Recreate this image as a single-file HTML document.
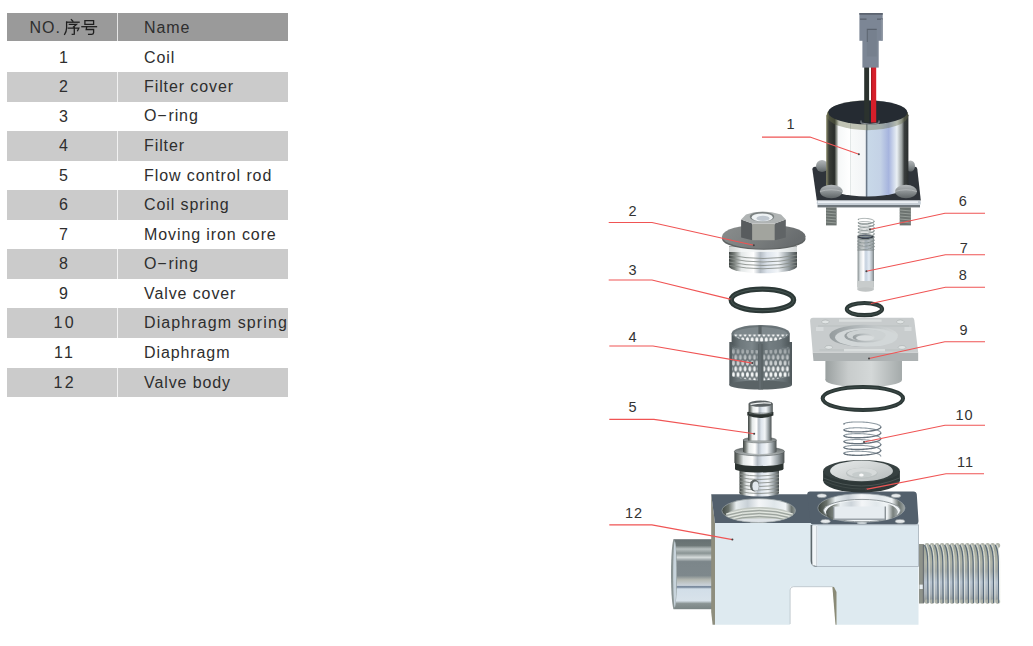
<!DOCTYPE html>
<html><head><meta charset="utf-8">
<style>
html,body{margin:0;padding:0;background:#fff;}
body{width:1033px;height:646px;position:relative;overflow:hidden;font-family:"Liberation Sans",sans-serif;color:#2e2e2e;}
.r{position:absolute;left:7px;width:281px;height:29.6px;}
.g{background:#cbcbcb;}
.h{background:#9a9a9a;}
.sep{position:absolute;left:110px;top:0;width:1px;height:100%;background:#fff;opacity:.75}
.n{position:absolute;left:0;width:113px;text-align:center;top:0;line-height:29.6px;font-size:16px;letter-spacing:2.4px;text-indent:2.4px;}
.t{position:absolute;left:137px;top:0;line-height:29.6px;font-size:16px;letter-spacing:.9px;white-space:nowrap;}
svg{position:absolute;left:0;top:0;}
.lbl{font-family:"Liberation Sans",sans-serif;font-size:14.5px;fill:#333;letter-spacing:1px}
</style></head><body>
<div class="r h" style="top:13px;height:28.4px"><div class="sep"></div><div class="n" style="text-align:left;left:22.5px;letter-spacing:1px;text-indent:0">NO.</div><div class="t">Name</div></div>
<div class="r" style="top:42.6px"><div class="n">1</div><div class="t">Coil</div></div>
<div class="r g" style="top:72.1px"><div class="sep"></div><div class="n">2</div><div class="t">Filter cover</div></div>
<div class="r" style="top:101.6px"><div class="n">3</div><div class="t" style="top:-1px">O<span style="margin-right:.8px">&#8722;</span>ring</div></div>
<div class="r g" style="top:131.2px"><div class="sep"></div><div class="n">4</div><div class="t">Filter</div></div>
<div class="r" style="top:160.7px"><div class="n">5</div><div class="t">Flow control rod</div></div>
<div class="r g" style="top:190.2px"><div class="sep"></div><div class="n">6</div><div class="t">Coil spring</div></div>
<div class="r" style="top:219.8px"><div class="n">7</div><div class="t">Moving iron core</div></div>
<div class="r g" style="top:249.3px"><div class="sep"></div><div class="n">8</div><div class="t">O<span style="margin-right:.8px">&#8722;</span>ring</div></div>
<div class="r" style="top:278.9px"><div class="n">9</div><div class="t">Valve cover</div></div>
<div class="r g" style="top:308.4px"><div class="sep"></div><div class="n">10</div><div class="t" style="letter-spacing:1.1px">Diaphragm spring</div></div>
<div class="r" style="top:337.9px"><div class="n">11</div><div class="t">Diaphragm</div></div>
<div class="r g" style="top:367.5px"><div class="sep"></div><div class="n">12</div><div class="t">Valve body</div></div>

<svg width="1033" height="646" viewBox="0 0 1033 646">

<defs>
<linearGradient id="chr" x1="0" x2="1" y1="0" y2="0">
 <stop offset="0" stop-color="#8a8a6a"/><stop offset="0.035" stop-color="#3a3e38"/><stop offset="0.1" stop-color="#2a2e2a"/><stop offset="0.125" stop-color="#8a8f88"/>
 <stop offset="0.15" stop-color="#f6f8f8"/><stop offset="0.285" stop-color="#ffffff"/><stop offset="0.29" stop-color="#c8d0d0"/><stop offset="0.3" stop-color="#f8fafa"/><stop offset="0.475" stop-color="#f2f4f6"/><stop offset="0.49" stop-color="#6a7888"/>
 <stop offset="0.51" stop-color="#c8d8e8"/><stop offset="0.66" stop-color="#c4d2e6"/><stop offset="0.76" stop-color="#a6b4de"/>
 <stop offset="0.86" stop-color="#eaf0f4"/><stop offset="0.92" stop-color="#9aa0a0"/><stop offset="0.95" stop-color="#3a3e3e"/><stop offset="1" stop-color="#2a2e2e"/>
</linearGradient>
<linearGradient id="chr2" x1="0" x2="1" y1="0" y2="0">
 <stop offset="0" stop-color="#3e4442"/><stop offset="0.08" stop-color="#7a807c"/><stop offset="0.18" stop-color="#e4e8e8"/>
 <stop offset="0.36" stop-color="#ffffff"/><stop offset="0.46" stop-color="#b4bcc4"/><stop offset="0.56" stop-color="#dde4ec"/>
 <stop offset="0.72" stop-color="#f2f5f8"/><stop offset="0.86" stop-color="#a0a8ac"/><stop offset="1" stop-color="#4a5050"/>
</linearGradient>
<linearGradient id="topV" x1="0" x2="0" y1="0" y2="1">
 <stop offset="0" stop-color="#5e6464"/><stop offset="0.6" stop-color="#8e9494"/><stop offset="1" stop-color="#c4cacc"/>
</linearGradient>
<linearGradient id="gry" x1="0" x2="1" y1="0" y2="0">
 <stop offset="0" stop-color="#9aa0a0"/><stop offset="0.3" stop-color="#c8cccc"/><stop offset="0.6" stop-color="#d4d8d8"/><stop offset="1" stop-color="#a4aaaa"/>
</linearGradient>
<linearGradient id="dome" x1="0" x2="0" y1="0" y2="1">
 <stop offset="0" stop-color="#b4b8ba"/><stop offset="0.5" stop-color="#8c9294"/><stop offset="1" stop-color="#5e6466"/>
</linearGradient>
<linearGradient id="pipeL" x1="0" x2="0" y1="0" y2="1">
 <stop offset="0" stop-color="#667072"/><stop offset="0.09" stop-color="#6e7878"/><stop offset="0.14" stop-color="#b8c0c0"/>
 <stop offset="0.2" stop-color="#8a9494"/><stop offset="0.26" stop-color="#d4dada"/><stop offset="0.32" stop-color="#7c868a"/>
 <stop offset="0.52" stop-color="#7e888c"/><stop offset="0.58" stop-color="#b4b8b2"/><stop offset="0.66" stop-color="#cad2da"/>
 <stop offset="0.68" stop-color="#66788e"/><stop offset="0.71" stop-color="#d2dee8"/><stop offset="0.88" stop-color="#d8e2ea"/>
 <stop offset="0.92" stop-color="#8a9494"/><stop offset="1" stop-color="#7a8484"/>
</linearGradient>
<linearGradient id="thr" x1="0" x2="0" y1="0" y2="1">
 <stop offset="0" stop-color="#9ea496"/><stop offset="0.3" stop-color="#b0b4a8"/><stop offset="0.45" stop-color="#a4aaa6"/><stop offset="0.65" stop-color="#b8c4d0"/><stop offset="0.85" stop-color="#aab2b8"/><stop offset="1" stop-color="#8c928e"/>
</linearGradient>
<pattern id="thrp" x="919" y="0" width="5.27" height="10" patternUnits="userSpaceOnUse">
 <rect x="0" y="0" width="5.27" height="10" fill="none"/>
 <rect x="0" y="0" width="1.2" height="10" fill="#5c6260" opacity=".55"/>
 <rect x="2.2" y="0" width="1.3" height="10" fill="#f0f2ee" opacity=".5"/>
</pattern>
<pattern id="mesh" x="729" y="345" width="4.6" height="12.6" patternUnits="userSpaceOnUse">
 <ellipse cx="2.3" cy="3.15" rx="1.15" ry="2.4" fill="#dfe4e6"/>
 <ellipse cx="0" cy="9.45" rx="1.15" ry="2.4" fill="#dfe4e6"/>
 <ellipse cx="4.6" cy="9.45" rx="1.15" ry="2.4" fill="#dfe4e6"/>
</pattern>
<clipPath id="fIn"><ellipse cx="760.8" cy="336" rx="29.6" ry="8.4"/></clipPath>
<linearGradient id="bodyF" x1="0" x2="1" y1="0" y2="0">
 <stop offset="0" stop-color="#dee6ec"/><stop offset="1" stop-color="#e2e8ee"/>
</linearGradient>
<linearGradient id="flg" x1="0" x2="1" y1="0" y2="0.3">
 <stop offset="0" stop-color="#8a8e8e"/><stop offset="0.5" stop-color="#7c8080"/><stop offset="1" stop-color="#686c6e"/>
</linearGradient>
<linearGradient id="holeG" x1="0" x2="1" y1="0" y2="0">
 <stop offset="0" stop-color="#3a423e"/><stop offset="0.1" stop-color="#6a726c"/><stop offset="0.2" stop-color="#e8eef0"/><stop offset="0.35" stop-color="#c8d0d6"/>
 <stop offset="0.5" stop-color="#f4f6f8"/><stop offset="0.7" stop-color="#dfe6ea"/><stop offset="0.85" stop-color="#f0f4f6"/><stop offset="0.93" stop-color="#6a726e"/><stop offset="1" stop-color="#a0a8a8"/>
</linearGradient>
<pattern id="mesh2" x="731" y="348.5" width="4.7" height="11.6" patternUnits="userSpaceOnUse">
 <ellipse cx="2.35" cy="2.9" rx="1.5" ry="2.6" fill="#f6f8f8"/>
 <ellipse cx="0" cy="8.7" rx="1.5" ry="2.6" fill="#f6f8f8"/>
 <ellipse cx="4.7" cy="8.7" rx="1.5" ry="2.6" fill="#f6f8f8"/>
</pattern>
<linearGradient id="fdim" x1="0" x2="0" y1="0" y2="1">
 <stop offset="0" stop-color="#6c767a" stop-opacity=".75"/><stop offset="0.5" stop-color="#6c767a" stop-opacity=".3"/><stop offset="0.7" stop-color="#6c767a" stop-opacity="0"/>
</linearGradient>
<linearGradient id="recG" x1="0" x2="1" y1="0" y2="0">
 <stop offset="0" stop-color="#959c9e"/><stop offset="0.5" stop-color="#b8bec0"/><stop offset="1" stop-color="#d4d8d8"/>
</linearGradient>
<linearGradient id="dG" x1="0" x2="1" y1="0" y2="1">
 <stop offset="0" stop-color="#e6eaea"/><stop offset="0.5" stop-color="#d0d4d4"/><stop offset="1" stop-color="#b4babb"/>
</linearGradient>
<linearGradient id="fmet" x1="0" x2="1" y1="0" y2="0">
 <stop offset="0" stop-color="#4e575a"/><stop offset="0.15" stop-color="#6e787c"/><stop offset="0.35" stop-color="#7c868a"/><stop offset="0.5" stop-color="#5e686c"/>
 <stop offset="0.65" stop-color="#747e82"/><stop offset="0.85" stop-color="#6a7478"/><stop offset="1" stop-color="#4e575a"/>
</linearGradient>
<linearGradient id="chr3" x1="0" x2="1" y1="0" y2="0">
 <stop offset="0" stop-color="#80888a"/><stop offset="0.15" stop-color="#d8dee0"/><stop offset="0.35" stop-color="#ffffff"/>
 <stop offset="0.5" stop-color="#c4d0de"/><stop offset="0.7" stop-color="#e4ecf4"/><stop offset="0.88" stop-color="#b0b8be"/><stop offset="1" stop-color="#7a8284"/>
</linearGradient>
</defs>

<!-- ===== right thread pipe ===== -->
<g id="pipeR">
<rect x="919.5" y="545" width="79" height="57.5" fill="url(#thr)"/>
<g fill="#aeb2a8"><circle cx="927.0" cy="545.6" r="2.5"/><circle cx="927.0" cy="601.6" r="2.4"/><circle cx="932.0" cy="545.6" r="2.5"/><circle cx="932.0" cy="601.6" r="2.4"/><circle cx="937.1" cy="545.6" r="2.5"/><circle cx="937.1" cy="601.6" r="2.4"/><circle cx="942.1" cy="545.6" r="2.5"/><circle cx="942.1" cy="601.6" r="2.4"/><circle cx="947.2" cy="545.6" r="2.5"/><circle cx="947.2" cy="601.6" r="2.4"/><circle cx="952.2" cy="545.6" r="2.5"/><circle cx="952.2" cy="601.6" r="2.4"/><circle cx="957.3" cy="545.6" r="2.5"/><circle cx="957.3" cy="601.6" r="2.4"/><circle cx="962.3" cy="545.6" r="2.5"/><circle cx="962.3" cy="601.6" r="2.4"/><circle cx="967.4" cy="545.6" r="2.5"/><circle cx="967.4" cy="601.6" r="2.4"/><circle cx="972.4" cy="545.6" r="2.5"/><circle cx="972.4" cy="601.6" r="2.4"/><circle cx="977.5" cy="545.6" r="2.5"/><circle cx="977.5" cy="601.6" r="2.4"/><circle cx="982.5" cy="545.6" r="2.5"/><circle cx="982.5" cy="601.6" r="2.4"/><circle cx="987.6" cy="545.6" r="2.5"/><circle cx="987.6" cy="601.6" r="2.4"/><circle cx="992.6" cy="545.6" r="2.5"/><circle cx="992.6" cy="601.6" r="2.4"/><circle cx="997.7" cy="545.6" r="2.5"/><circle cx="997.7" cy="601.6" r="2.4"/></g>
<g fill="none"><path d="M924.5 545 Q927.5 550 927.7 562 L928.0 603" stroke="#56687a" stroke-width="1.1"/><path d="M926.1 544.5 Q928.9 550 929.1 562 L929.4 603" stroke="#f0f2ec" stroke-width=".9" stroke-opacity=".8"/><path d="M929.5 545 Q932.5 550 932.8 562 L933.0 603" stroke="#56687a" stroke-width="1.1"/><path d="M931.1 544.5 Q933.9 550 934.1 562 L934.4 603" stroke="#f0f2ec" stroke-width=".9" stroke-opacity=".8"/><path d="M934.6 545 Q937.6 550 937.8 562 L938.1 603" stroke="#56687a" stroke-width="1.1"/><path d="M936.2 544.5 Q939.0 550 939.2 562 L939.5 603" stroke="#f0f2ec" stroke-width=".9" stroke-opacity=".8"/><path d="M939.6 545 Q942.6 550 942.8 562 L943.1 603" stroke="#56687a" stroke-width="1.1"/><path d="M941.2 544.5 Q944.0 550 944.2 562 L944.5 603" stroke="#f0f2ec" stroke-width=".9" stroke-opacity=".8"/><path d="M944.7 545 Q947.7 550 947.9 562 L948.2 603" stroke="#56687a" stroke-width="1.1"/><path d="M946.3 544.5 Q949.1 550 949.3 562 L949.6 603" stroke="#f0f2ec" stroke-width=".9" stroke-opacity=".8"/><path d="M949.7 545 Q952.7 550 952.9 562 L953.2 603" stroke="#56687a" stroke-width="1.1"/><path d="M951.3 544.5 Q954.1 550 954.3 562 L954.6 603" stroke="#f0f2ec" stroke-width=".9" stroke-opacity=".8"/><path d="M954.8 545 Q957.8 550 958.0 562 L958.3 603" stroke="#56687a" stroke-width="1.1"/><path d="M956.4 544.5 Q959.2 550 959.4 562 L959.7 603" stroke="#f0f2ec" stroke-width=".9" stroke-opacity=".8"/><path d="M959.8 545 Q962.8 550 963.0 562 L963.3 603" stroke="#56687a" stroke-width="1.1"/><path d="M961.4 544.5 Q964.2 550 964.4 562 L964.7 603" stroke="#f0f2ec" stroke-width=".9" stroke-opacity=".8"/><path d="M964.9 545 Q967.9 550 968.1 562 L968.4 603" stroke="#56687a" stroke-width="1.1"/><path d="M966.5 544.5 Q969.3 550 969.5 562 L969.8 603" stroke="#f0f2ec" stroke-width=".9" stroke-opacity=".8"/><path d="M969.9 545 Q972.9 550 973.1 562 L973.4 603" stroke="#56687a" stroke-width="1.1"/><path d="M971.5 544.5 Q974.3 550 974.5 562 L974.8 603" stroke="#f0f2ec" stroke-width=".9" stroke-opacity=".8"/><path d="M975.0 545 Q978.0 550 978.2 562 L978.5 603" stroke="#56687a" stroke-width="1.1"/><path d="M976.6 544.5 Q979.4 550 979.6 562 L979.9 603" stroke="#f0f2ec" stroke-width=".9" stroke-opacity=".8"/><path d="M980.0 545 Q983.0 550 983.2 562 L983.5 603" stroke="#56687a" stroke-width="1.1"/><path d="M981.6 544.5 Q984.4 550 984.6 562 L984.9 603" stroke="#f0f2ec" stroke-width=".9" stroke-opacity=".8"/><path d="M985.1 545 Q988.1 550 988.3 562 L988.6 603" stroke="#56687a" stroke-width="1.1"/><path d="M986.7 544.5 Q989.5 550 989.7 562 L990.0 603" stroke="#f0f2ec" stroke-width=".9" stroke-opacity=".8"/><path d="M990.1 545 Q993.1 550 993.3 562 L993.6 603" stroke="#56687a" stroke-width="1.1"/><path d="M991.7 544.5 Q994.5 550 994.7 562 L995.0 603" stroke="#f0f2ec" stroke-width=".9" stroke-opacity=".8"/><path d="M995.2 545 Q998.2 550 998.4 562 L998.7 603" stroke="#56687a" stroke-width="1.1"/><path d="M996.8 544.5 Q999.6 550 999.8 562 L1000.1 603" stroke="#f0f2ec" stroke-width=".9" stroke-opacity=".8"/></g>
<rect x="919" y="544" width="5" height="59.5" fill="#8e928a"/>
<rect x="919.5" y="584.6" width="4.2" height="4.4" fill="#e8eef2"/>
<rect x="922.8" y="545" width="1.2" height="58" fill="#6a7074"/>
</g>
<!-- ===== left pipe ===== -->
<g id="pipeL">
<rect x="673.5" y="539.2" width="40.5" height="70" fill="url(#pipeL)"/>
<ellipse cx="674" cy="574.2" rx="3" ry="35" fill="#8a9494"/>
<ellipse cx="674.8" cy="574.2" rx="1.6" ry="33" fill="#c8d4dc"/>
</g>
<!-- ===== valve body ===== -->
<g id="body">
<polygon points="711.2,494.3 715,523 715,624.8 712.6,624.8 711.2,612" fill="#8e8e7e"/>
<polygon points="715,523 918.5,523 918.5,624.8 836,624.8 832.4,586.7 790.1,586.7 790.1,624.8 715,624.8" fill="#deeaf0"/>
<polygon points="832.4,586.7 834,587 836.5,592 836.5,624.8 835.5,624.8" fill="#8a8a76"/>
<path d="M790.1 624 V590 Q790.1 586.7 793.5 586.7 H832.4" fill="none" stroke="#b8c0c6" stroke-width=".8"/>
<!-- top faces -->
<polygon points="711.2,494.3 809,494.3 812,523 715,523" fill="#53606c"/>
<path d="M810 491.4 H913.5 Q916.5 491.4 916.8 494.5 L918.5 521 Q918.5 524.6 915 524.6 H813.5 Q810.5 524.6 810.3 521.5 L807.2 494.5 Q807.2 491.4 810 491.4 Z" fill="#53606c"/>
<!-- right block front -->
<path d="M811.8 524.8 H918.5 V566.5 H816 Q811.8 566.5 811.8 562 Z" fill="#dce8ef" stroke="#9ea8b0" stroke-width=".7"/>
<path d="M810.6 525 V561 Q810.8 566.3 816 566.6 L817.5 566.6 Q812.6 565.5 812.4 560 V525 Z" fill="#5e686c"/>
<rect x="812.4" y="525.5" width="5.2" height="40" fill="#f2f6f8"/>
<line x1="816.7" y1="526" x2="816.7" y2="566" stroke="#a8b2ba" stroke-width=".6"/>
<!-- left hole -->
<clipPath id="lh"><ellipse cx="758.7" cy="510.6" rx="36.8" ry="11.9"/></clipPath>
<g clip-path="url(#lh)">
<rect x="721" y="498" width="76" height="26" fill="url(#holeG)"/>
<ellipse cx="759.5" cy="516.5" rx="34" ry="9.5" fill="#c2c8c2"/>
<g fill="none" stroke="#e6eae4" stroke-width="1">
<path d="M726 514 Q759 504 793 514"/><path d="M726 517 Q759 507 793 517"/><path d="M726 520 Q759 510 793 520"/>
</g>
<g fill="none" stroke="#8e9690" stroke-width=".8">
<path d="M726 515.5 Q759 505.5 793 515.5"/><path d="M726 518.5 Q759 508.5 793 518.5"/><path d="M726 521.5 Q759 511.5 793 521.5"/>
</g>
<ellipse cx="760" cy="522" rx="30" ry="3.5" fill="#dde2e6"/>
</g>
<ellipse cx="758.7" cy="510.6" rx="36.8" ry="11.9" fill="none" stroke="#9aa2a4" stroke-width=".7"/>
<!-- right hole -->
<ellipse cx="861.4" cy="508" rx="43.6" ry="14.3" fill="url(#holeG)"/>
<ellipse cx="861.4" cy="508" rx="43.6" ry="14.3" fill="none" stroke="#9aa2a6" stroke-width=".7"/>
<ellipse cx="862" cy="510.6" rx="38.5" ry="11.2" fill="#f0f4f6" stroke="#7e868a" stroke-width=".8"/>
<path d="M826 512 Q828 502 862 500.5 Q896 502 898 512 Q897 518 886 520 V508 H833 V520 Q826 518 826 512 Z" fill="url(#holeG)" opacity=".9"/>
<rect x="833" y="506.5" width="53" height="13.5" fill="#e6ecf0"/>
<rect x="833" y="518.5" width="53" height="1.5" fill="#9aa2a8"/>
<rect x="833" y="506.5" width="1.4" height="13.5" fill="#8a9296"/>
<rect x="884.6" y="506.5" width="1.4" height="13.5" fill="#8a9296"/>
<!-- small holes -->
<g fill="#e6eaec" stroke="#7e868c" stroke-width=".6">
<ellipse cx="821.8" cy="495.7" rx="4.8" ry="2"/>
<ellipse cx="896" cy="495.7" rx="4.8" ry="2"/>
<ellipse cx="825.5" cy="521.3" rx="4.8" ry="2"/>
<ellipse cx="900" cy="521.3" rx="4.8" ry="2"/>
</g>
<ellipse cx="862" cy="523" rx="5" ry="1" fill="#c8d0d4"/>
</g>
</g>

<!-- ===== rod 5 ===== -->
<g id="rod5">
<!-- thread -->
<rect x="739.5" y="469" width="39.5" height="24" fill="url(#chr2)"/>
<ellipse cx="759.2" cy="493" rx="19.8" ry="3.6" fill="url(#chr2)"/>
<g stroke="#8a908c" stroke-width=".9" fill="none">
<path d="M739.5 474 Q759 478 779 474"/><path d="M739.5 477.5 Q759 481.5 779 477.5"/><path d="M739.5 481 Q759 485 779 481"/>
<path d="M739.5 484.5 Q759 488.5 779 484.5"/><path d="M739.5 488 Q759 492 779 488"/><path d="M739.5 491.5 Q759 495.5 779 491.5"/>
</g>
<ellipse cx="754.5" cy="485.5" rx="4.6" ry="6" fill="#5e6464"/>
<ellipse cx="755.6" cy="486.2" rx="3.2" ry="4.6" fill="#e2e8ee"/>
<!-- black o-ring -->
<rect x="735" y="462.5" width="48.5" height="6.5" fill="#2b3230"/>
<ellipse cx="759.2" cy="469" rx="24.2" ry="3.4" fill="#2b3230"/>
<!-- flange -->
<rect x="734.4" y="451.5" width="50" height="11" fill="url(#chr2)"/>
<ellipse cx="759.4" cy="462.5" rx="25" ry="3.4" fill="url(#chr2)"/>
<ellipse cx="759.4" cy="451.4" rx="25" ry="4.4" fill="url(#topV)" stroke="#4e5454" stroke-width=".6"/>
<!-- step -->
<rect x="743" y="440" width="33.5" height="11.5" fill="url(#chr2)"/>
<ellipse cx="759.7" cy="451.5" rx="16.75" ry="2.6" fill="url(#chr2)"/>
<ellipse cx="759.7" cy="440" rx="16.75" ry="2.9" fill="url(#topV)" stroke="#4e5454" stroke-width=".5"/>
<!-- stem -->
<rect x="748" y="416" width="23.5" height="24.5" fill="url(#chr2)"/>
<!-- o-ring top -->
<path d="M747.3 412 Q760 409.5 773.4 412 V415.6 Q760 420.5 747.3 415.6 Z" fill="#2b3230"/>
<path d="M749 413.5 Q760 415.5 771.6 413.5" stroke="#6a7270" stroke-width=".6" fill="none"/>
<!-- cap -->
<rect x="748.6" y="403.7" width="24.2" height="8.6" fill="url(#chr2)"/>
<path d="M748.6 412.3 Q760.7 415 772.8 412.3" fill="url(#chr2)"/>
<ellipse cx="760.7" cy="403.7" rx="12.1" ry="3.1" fill="#5a6062"/>
<path d="M750.5 404.4 Q761 402.2 771 403.2" stroke="#f4f6f6" stroke-width="1.1" fill="none"/>
</g>
<!-- ===== filter 4 ===== -->
<g id="filter4">
<!-- body -->
<rect x="729.3" y="342" width="62.7" height="43" fill="url(#fmet)"/>
<ellipse cx="760.6" cy="385" rx="31.35" ry="4.6" fill="#5a6366"/>
<!-- mesh panels -->
<clipPath id="fp"><path d="M732.2 347.5 Q745 350 757.8 350.6 V380.5 Q745 380 732.2 376.5 Z M763.5 350.6 Q776 350 789.3 347.5 V376.5 Q776 380 763.5 380.5 Z"/></clipPath>
<g clip-path="url(#fp)">
<rect x="730" y="345" width="62" height="37" fill="#6c767a"/>
<rect x="730" y="345" width="62" height="37" fill="url(#mesh2)"/>
<rect x="730" y="345" width="62" height="37" fill="url(#fdim)"/>
</g>
<!-- top ring -->
<rect x="731.6" y="333.5" width="58.1" height="10.5" fill="url(#fmet)"/>
<ellipse cx="760.65" cy="344" rx="29.05" ry="4.5" fill="url(#fmet)"/>
<ellipse cx="760.65" cy="333.5" rx="29.05" ry="8.6" fill="#6a7478"/>
<ellipse cx="760.65" cy="334.3" rx="26.8" ry="7.2" fill="#7e888c"/>
<clipPath id="fIn2"><ellipse cx="760.65" cy="334.3" rx="26.8" ry="7.2"/></clipPath>
<g clip-path="url(#fIn2)"><rect x="733" y="334.5" width="56" height="8" fill="url(#mesh2)"/></g>
<!-- struts -->
<rect x="758.4" y="325.5" width="3.2" height="8.5" fill="#5a6366"/>
<rect x="758.3" y="344" width="4.8" height="45.5" fill="#5b6467"/>
<line x1="760" y1="344" x2="760" y2="389" stroke="#707a7e" stroke-width=".7"/>
</g>
<!-- ===== O-ring 3 ===== -->
<ellipse cx="762.4" cy="299.9" rx="31.2" ry="10.8" fill="none" stroke="#2c3836" stroke-width="5.3"/>
<ellipse cx="762.4" cy="299.9" rx="31.2" ry="10.8" fill="none" stroke="#475654" stroke-width="1.1" opacity=".8"/>
<!-- ===== filter cover 2 ===== -->
<g id="cover2">
<rect x="729" y="246.5" width="68" height="20" fill="url(#chr2)"/>
<ellipse cx="763" cy="266.5" rx="34" ry="6.8" fill="url(#chr2)"/>
<g stroke="#8a908c" stroke-width=".9" fill="none">
<path d="M729 255 Q763 262 797 255"/><path d="M729 258.5 Q763 265.5 797 258.5"/><path d="M729 262 Q763 269 797 262"/><path d="M729.5 265.5 Q763 272 796.5 265.5"/>
</g>
<rect x="729" y="247" width="68" height="5" fill="#f4f6f6" opacity=".8"/>
<ellipse cx="763.8" cy="239" rx="41.8" ry="10.8" fill="#5e6262"/>
<ellipse cx="763.8" cy="236.5" rx="41.8" ry="12.3" fill="url(#flg)"/>
<!-- hex -->
<polygon points="741.1,219.5 752.2,223.6 752.2,240.2 741.1,237.4" fill="#585c5e"/>
<polygon points="752.2,223.6 774.8,223.6 774.8,240.2 752.2,240.2" fill="#a2a49e"/>
<polygon points="774.8,223.6 785.8,219.5 785.8,237.4 774.8,240.2" fill="#606466"/>
<path d="M741.1 219.5 L746 214.5 Q762 208.6 781 214.5 L785.8 219.5 L774.8 223.6 H752.2 Z" fill="#b0b4b4"/>
<ellipse cx="762" cy="216.8" rx="12.2" ry="4.9" fill="#7a8080"/>
<ellipse cx="762.2" cy="217.4" rx="10.6" ry="4" fill="#eef2f4"/>
<ellipse cx="763" cy="218.4" rx="6.5" ry="2.6" fill="#c0c8d0"/>
</g>

<!-- ===== connector + wires ===== -->
<g id="conn">
<rect x="864.2" y="66" width="4.9" height="62" fill="#2b322e"/>
<rect x="871" y="66" width="5.2" height="62" fill="#d61f2a"/>
<rect x="871" y="66" width="1.2" height="62" fill="#a81820"/>
<rect x="859.4" y="13" width="23.3" height="27.8" fill="#7c8695"/>
<rect x="859.4" y="13" width="23.3" height="1.8" fill="#5c6470"/>
<rect x="860" y="18.5" width="6.5" height="1.3" fill="#5a626e"/>
<rect x="877" y="18.5" width="6" height="1.3" fill="#5a626e"/>
<rect x="881.2" y="19" width="1.5" height="21.5" fill="#8a93a0"/>
<rect x="862.4" y="40" width="16.3" height="27.6" fill="#7c8695"/>
<rect x="866.8" y="28.8" width="9.9" height="27.7" fill="#76808e"/>
<rect x="866.8" y="28.8" width="9.9" height="1.2" fill="#5a626e"/>
<rect x="866.8" y="30" width="1" height="12" fill="#5e6672"/>
</g>
<!-- ===== coil 1 ===== -->
<g id="coil">
<path d="M815 166.7 H915 Q917 166.7 917.3 169 L920.8 200.5 H816.8 L812.4 169.5 Q812.4 166.7 815 166.7 Z" fill="#2f343a"/>
<rect x="816.8" y="200.5" width="104" height="4.6" rx="1.5" fill="#c6ced6"/>
<rect x="818" y="201.3" width="100" height="1.6" fill="#f0f4f8"/>
<rect x="817.5" y="205" width="102.5" height="2.4" fill="#6e767c"/>
<!-- back screws -->
<ellipse cx="822" cy="166" rx="6" ry="6" fill="url(#dome)"/>
<ellipse cx="910.5" cy="166" rx="4.5" ry="5.5" fill="url(#dome)"/>
<!-- threads under plate -->
<g>
<rect x="826" y="207.4" width="10.6" height="18" fill="#6c7370"/>
<rect x="899.7" y="207.4" width="11.2" height="18" fill="#6c7370"/>
<g stroke="#9aa09c" stroke-width=".9">
<line x1="826" y1="210" x2="836.6" y2="211"/><line x1="826" y1="213" x2="836.6" y2="214"/><line x1="826" y1="216" x2="836.6" y2="217"/><line x1="826" y1="219" x2="836.6" y2="220"/><line x1="826" y1="222" x2="836.6" y2="223"/>
<line x1="899.7" y1="210" x2="910.9" y2="211"/><line x1="899.7" y1="213" x2="910.9" y2="214"/><line x1="899.7" y1="216" x2="910.9" y2="217"/><line x1="899.7" y1="219" x2="910.9" y2="220"/><line x1="899.7" y1="222" x2="910.9" y2="223"/>
</g>
</g>
<!-- cylinder -->
<rect x="826.2" y="115.5" width="82.2" height="69" fill="url(#chr)"/>
<ellipse cx="867.3" cy="184.3" rx="41.1" ry="12.2" fill="url(#chr)"/>
<ellipse cx="867.5" cy="115.2" rx="40.9" ry="15" fill="url(#chr)"/>
<ellipse cx="867.5" cy="115.2" rx="40.9" ry="15" fill="#6a6e48" opacity=".4"/>
<ellipse cx="867.8" cy="112.4" rx="39.5" ry="11.9" fill="#252b32"/>
<rect x="864.2" y="100" width="4.9" height="22.5" fill="#2b322e"/>
<rect x="871" y="100" width="5.2" height="22.5" fill="#d61f2a"/>
<path d="M861 120.5 V123 Q870 125.5 879 123 V120.5" fill="none" stroke="#8a9094" stroke-width="1"/>
<!-- front screws -->
<ellipse cx="831.3" cy="191.5" rx="11.4" ry="6.8" fill="url(#dome)"/>
<ellipse cx="906" cy="191.5" rx="11" ry="6.8" fill="url(#dome)"/>
<path d="M820 191.5 Q831 188 842.7 191.5" stroke="#c4c8ca" stroke-width=".6" fill="none"/>
<path d="M895 191.5 Q906 188 917 191.5" stroke="#c4c8ca" stroke-width=".6" fill="none"/>
</g>
<!-- ===== spring 6 ===== -->
<g id="spring6" fill="none" stroke-linecap="round">
<path d="M858.39 219.39 L858.65 219.19 L859.08 219.00 L859.67 218.83 L860.40 218.68 L861.26 218.57 L862.23 218.48 L863.29 218.43 L864.42 218.42 L865.58 218.45 L866.76 218.53 L867.92 218.64 L869.05 218.80 L870.11 219.00 L871.09 219.23 L871.96 219.50 L872.70 219.79 L873.29 220.11 L873.73 220.45 L874.00 220.80 L874.10 221.15 L874.02 221.51 M858.37 222.56 L858.61 222.36 L859.03 222.17 L859.60 222.00 L860.32 221.85 L861.16 221.72 L862.13 221.63 L863.18 221.58 L864.30 221.57 L865.46 221.60 L866.63 221.66 L867.80 221.78 L868.93 221.93 L870.01 222.12 L870.99 222.35 L871.87 222.61 L872.63 222.91 L873.24 223.22 L873.69 223.56 L873.98 223.91 L874.10 224.26 L874.04 224.62 M858.35 225.73 L858.58 225.53 L858.97 225.33 L859.53 225.16 L860.23 225.01 L861.07 224.88 L862.02 224.79 L863.06 224.73 L864.18 224.72 L865.33 224.74 L866.51 224.80 L867.68 224.91 L868.82 225.06 L869.90 225.25 L870.89 225.47 L871.79 225.73 L872.55 226.02 L873.18 226.34 L873.65 226.67 L873.96 227.02 L874.09 227.37 L874.05 227.73 M858.34 228.90 L858.55 228.70 L858.93 228.50 L859.46 228.32 L860.15 228.17 L860.98 228.04 L861.91 227.95 L862.95 227.88 L864.06 227.86 L865.21 227.88 L866.39 227.94 L867.56 228.04 L868.70 228.19 L869.79 228.37 L870.79 228.59 L871.70 228.85 L872.48 229.14 L873.12 229.45 L873.61 229.78 L873.94 230.13 L874.09 230.48 L874.06 230.84 M858.33 232.07 L858.52 231.86 L858.88 231.67 L859.40 231.49 L860.07 231.33 L860.88 231.20 L861.81 231.10 L862.84 231.04 L863.94 231.01 L865.09 231.02 L866.26 231.08 L867.44 231.18 L868.58 231.32 L869.68 231.50 L870.69 231.72 L871.61 231.97 L872.40 232.25 L873.06 232.56 L873.57 232.89 L873.91 233.24 L874.08 233.59 L874.08 233.95 M858.32 235.24 L858.49 235.03 L858.83 234.84 L859.34 234.66 L860.00 234.49 L860.79 234.36 L861.71 234.26 L862.72 234.19 L863.82 234.16 L864.96 234.17 L866.14 234.22 L867.31 234.31 L868.46 234.45 L869.56 234.62 L870.59 234.84 L871.52 235.09 L872.33 235.37 L873.00 235.68 L873.52 236.00 L873.88 236.35 L874.07 236.70 L874.08 237.06 M858.31 238.41 L858.46 238.20 L858.79 238.00 L859.28 237.82 L859.92 237.66 L860.70 237.52 L861.61 237.41 L862.61 237.34 L863.70 237.31 L864.84 237.31 L866.01 237.36 L867.19 237.45 L868.34 237.58 L869.45 237.75 L870.49 237.96 L871.42 238.21 L872.25 238.49 L872.94 238.79 L873.47 239.12 L873.85 239.46 L874.06 239.81 L874.09 240.17 M858.31 241.58 L858.44 241.37 L858.75 241.17 L859.22 240.99 L859.85 240.82 L860.61 240.68 L861.51 240.57 L862.50 240.50 L863.58 240.46 L864.72 240.46 L865.89 240.50 L867.07 240.58 L868.22 240.71 L869.34 240.88 L870.38 241.09 L871.33 241.33 L872.17 241.60 L872.87 241.90 L873.43 242.23 L873.82 242.57 L874.05 242.92 L874.10 243.28 M858.30 244.75 L858.42 244.54 L858.71 244.34 L859.16 244.15 L859.77 243.99 L860.53 243.84 L861.41 243.73 L862.39 243.65 L863.47 243.61 L864.60 243.60 L865.77 243.64 L866.94 243.72 L868.10 243.84 L869.22 244.01 L870.27 244.21 L871.24 244.45 L872.08 244.72 L872.80 245.02 L873.37 245.34 L873.79 245.68 L874.03 246.03 L874.10 246.39 M858.30 247.92 L858.40 247.71 L858.67 247.51 L859.11 247.32 L859.70 247.15 L860.44 247.00 L861.31 246.89 L862.29 246.80 L863.35 246.76 L864.48 246.75 L865.64 246.78 L866.82 246.86 L867.98 246.98 L869.11 247.14 L870.17 247.33 L871.14 247.57 L872.00 247.84 L872.73 248.13 L873.32 248.45 L873.75 248.79 L874.01 249.14 L874.10 249.50" stroke="#a4acac" stroke-width="1"/>
</g>
<!-- ===== core 7 ===== -->
<g id="core7">
<rect x="857.6" y="237" width="16.4" height="50" fill="url(#chr3)"/>
<rect x="857.3" y="281" width="16.6" height="8.5" fill="#c8cccc"/>
<ellipse cx="865.6" cy="289.5" rx="8.3" ry="2.2" fill="#c0c4c4"/>
<g stroke="#7a8282" stroke-width=".9">
<line x1="857.3" y1="241" x2="873.9" y2="241"/><line x1="857.3" y1="244" x2="873.9" y2="244"/><line x1="857.3" y1="247" x2="873.9" y2="247"/><line x1="857.3" y1="250" x2="873.9" y2="250"/>
</g>
<ellipse cx="865.6" cy="236.8" rx="8.3" ry="2.4" fill="#3a4048"/>
<ellipse cx="865.6" cy="236.5" rx="6" ry="1.4" fill="#5c6878"/>
</g>
<g id="spring6f" fill="none" stroke-linecap="round">
<path d="M858.30 219.60 L858.39 219.39 M874.02 221.51 L873.77 221.86 L873.35 222.20 L872.77 222.52 L872.04 222.82 L871.19 223.09 L870.22 223.33 L869.17 223.53 L868.04 223.69 L866.88 223.81 L865.70 223.89 L864.54 223.92 L863.41 223.92 L862.34 223.87 L861.36 223.79 L860.48 223.68 L859.74 223.53 L859.13 223.36 L858.69 223.18 L858.41 222.98 L858.30 222.77 L858.37 222.56 M874.04 224.62 L873.80 224.97 L873.40 225.32 L872.84 225.64 L872.13 225.94 L871.28 226.21 L870.33 226.45 L869.28 226.66 L868.16 226.82 L867.01 226.95 L865.83 227.03 L864.66 227.07 L863.52 227.07 L862.45 227.03 L861.46 226.95 L860.57 226.84 L859.81 226.70 L859.19 226.53 L858.73 226.34 L858.43 226.15 L858.30 225.94 L858.35 225.73 M874.05 227.73 L873.84 228.09 L873.45 228.43 L872.90 228.75 L872.21 229.06 L871.38 229.33 L870.43 229.58 L869.39 229.78 L868.28 229.95 L867.13 230.08 L865.95 230.17 L864.78 230.21 L863.64 230.22 L862.56 230.18 L861.56 230.11 L860.66 230.00 L859.88 229.86 L859.25 229.70 L858.77 229.51 L858.45 229.31 L858.31 229.11 L858.34 228.90 M874.06 230.84 L873.87 231.20 L873.50 231.54 L872.97 231.87 L872.29 232.17 L871.47 232.45 L870.54 232.70 L869.51 232.91 L868.40 233.09 L867.25 233.22 L866.08 233.31 L864.90 233.36 L863.76 233.37 L862.67 233.33 L861.66 233.26 L860.75 233.16 L859.96 233.02 L859.31 232.86 L858.81 232.68 L858.48 232.48 L858.32 232.28 L858.33 232.07 M874.08 233.95 L873.90 234.31 L873.55 234.65 L873.03 234.98 L872.37 235.29 L871.56 235.57 L870.64 235.82 L869.62 236.04 L868.52 236.22 L867.37 236.35 L866.20 236.45 L865.03 236.50 L863.88 236.52 L862.78 236.49 L861.76 236.42 L860.84 236.32 L860.03 236.19 L859.37 236.03 L858.85 235.85 L858.50 235.65 L858.32 235.45 L858.32 235.24 M874.08 237.06 L873.92 237.42 L873.59 237.76 L873.09 238.09 L872.44 238.41 L871.65 238.69 L870.74 238.94 L869.73 239.16 L868.64 239.35 L867.50 239.49 L866.32 239.59 L865.15 239.65 L864.00 239.66 L862.89 239.64 L861.86 239.58 L860.93 239.48 L860.11 239.35 L859.43 239.19 L858.90 239.01 L858.53 238.82 L858.34 238.62 L858.31 238.41 M874.09 240.17 L873.95 240.53 L873.63 240.87 L873.15 241.21 L872.52 241.52 L871.74 241.81 L870.84 242.07 L869.84 242.29 L868.76 242.48 L867.62 242.62 L866.45 242.73 L865.27 242.79 L864.12 242.81 L863.01 242.79 L861.97 242.73 L861.02 242.64 L860.19 242.51 L859.50 242.36 L858.95 242.18 L858.56 241.99 L858.35 241.78 L858.31 241.58 M874.10 243.28 L873.97 243.64 L873.67 243.99 L873.21 244.32 L872.59 244.64 L871.83 244.93 L870.94 245.19 L869.95 245.42 L868.88 245.61 L867.74 245.76 L866.57 245.87 L865.39 245.93 L864.24 245.96 L863.12 245.94 L862.07 245.89 L861.12 245.80 L860.27 245.67 L859.56 245.52 L859.00 245.35 L858.60 245.16 L858.36 244.95 L858.30 244.75 M874.10 246.39 L873.99 246.75 L873.71 247.10 L873.27 247.43 L872.66 247.75 L871.92 248.05 L871.04 248.31 L870.06 248.54 L868.99 248.74 L867.86 248.89 L866.70 249.00 L865.52 249.08 L864.36 249.11 L863.23 249.09 L862.18 249.04 L861.21 248.96 L860.36 248.84 L859.63 248.69 L859.05 248.51 L858.63 248.33 L858.38 248.12 L858.30 247.92" stroke="#8a9494" stroke-width="1.15"/>
</g>

<!-- ===== O-ring 8 ===== -->
<ellipse cx="864.45" cy="309.1" rx="17.6" ry="6.1" fill="none" stroke="#2c3836" stroke-width="4.2"/>
<ellipse cx="864.45" cy="309.1" rx="17.6" ry="6.1" fill="none" stroke="#475654" stroke-width=".9" opacity=".8"/>
<!-- ===== valve cover 9 ===== -->
<g id="cover9">
<rect x="825.4" y="358" width="76.6" height="22" fill="url(#gry)"/>
<ellipse cx="863.7" cy="380" rx="38.3" ry="7.2" fill="url(#gry)"/>
<path d="M812.7 352.6 H918.2 L918.2 361 H813.5 Z" fill="#adb2b3"/>
<path d="M813 317.7 H911 Q914 316.8 914.3 320 L918.2 352.6 H812.7 L810.1 321 Q810.1 317.7 813 317.7 Z" fill="#c8cccd"/>
<path d="M818 326 H909 M819.5 350 H910.5" stroke="#b4babb" stroke-width=".7"/>
<rect x="816" y="327" width="7.5" height="4" fill="#d6dadb"/><rect x="904.5" y="327" width="7" height="4" fill="#d6dadb"/>
<ellipse cx="863.6" cy="335.8" rx="34.2" ry="11" fill="url(#recG)"/>
<ellipse cx="866.2" cy="337.4" rx="31.2" ry="9.4" fill="#d2d7d8"/>
<ellipse cx="865.4" cy="336" rx="21" ry="6.6" fill="url(#recG)"/>
<ellipse cx="866.2" cy="335.2" rx="19.4" ry="5.6" fill="#cdd2d3"/>
<ellipse cx="863.6" cy="337.2" rx="11" ry="3.8" fill="url(#recG)"/>
<ellipse cx="865" cy="338" rx="9" ry="2.8" fill="#d8dcdd"/>
<g fill="#e0e4e4" stroke="#a0a6a6" stroke-width=".5">
<ellipse cx="825.4" cy="321.9" rx="3.8" ry="1.9"/><ellipse cx="900.3" cy="321.9" rx="3.8" ry="1.9"/>
<ellipse cx="828.8" cy="347.4" rx="3.8" ry="1.9"/><ellipse cx="902" cy="347.4" rx="3.8" ry="1.9"/>
</g>
<rect x="839" y="319.4" width="42.6" height="2.4" fill="#dadede"/>
<rect x="844" y="349" width="41" height="2.4" fill="#dadede"/>
</g>
<!-- ===== O-ring under 9 ===== -->
<ellipse cx="862.85" cy="398.5" rx="40.2" ry="11.5" fill="none" stroke="#2c3836" stroke-width="4"/>
<ellipse cx="862.85" cy="398.5" rx="40.2" ry="11.5" fill="none" stroke="#475654" stroke-width=".9" opacity=".7"/>

<!-- ===== diaphragm 11 ===== -->
<g id="diaph">
<ellipse cx="861.5" cy="480.3" rx="38.4" ry="12.2" fill="#2e3838"/>
<rect x="823.1" y="471" width="76.8" height="9.3" fill="#2e3838"/>
<path d="M823.5 478 Q861.5 494 899.5 478" stroke="#56605e" stroke-width=".7" fill="none"/>
<path d="M823.5 481 Q861.5 497 899.5 481" stroke="#485250" stroke-width=".6" fill="none"/>
<ellipse cx="861.5" cy="471" rx="38.4" ry="11" fill="#364040"/>
<ellipse cx="861.5" cy="470.9" rx="31.5" ry="10.3" fill="url(#dG)"/>
<ellipse cx="861.8" cy="473.3" rx="15.8" ry="5.6" fill="#bcc2c2"/>
<ellipse cx="862" cy="472.6" rx="14.8" ry="4.6" fill="#d6dada"/>
<ellipse cx="862" cy="474.5" rx="10" ry="3" fill="#c6cccc"/>
<ellipse cx="861.4" cy="475" rx="2.3" ry="1.5" fill="#fafafa"/>
</g>
<!-- ===== spring 10 ===== -->
<g id="spring10" fill="none" stroke-linecap="round">
<path d="M844.07 423.79 L844.27 423.58 L844.61 423.37 L845.09 423.17 L845.69 422.98 L846.42 422.80 L847.26 422.63 L848.22 422.48 L849.29 422.34 L850.45 422.22 L851.70 422.12 L853.03 422.04 L854.44 421.98 L855.90 421.95 L857.41 421.94 L858.95 421.95 L860.52 421.99 L862.11 422.05 L863.70 422.14 L865.28 422.25 L866.84 422.39 L868.36 422.55 L869.84 422.74 L871.26 422.95 L872.62 423.19 L873.90 423.44 L875.10 423.71 L876.20 424.01 L877.20 424.31 L878.09 424.64 L878.86 424.98 L879.51 425.32 L880.03 425.68 L880.42 426.05 L880.67 426.42 L880.79 426.79 L880.77 427.17 M844.01 429.80 L844.11 429.58 L844.35 429.37 L844.73 429.17 L845.24 428.97 L845.88 428.78 L846.64 428.61 L847.51 428.44 L848.50 428.29 L849.60 428.16 L850.78 428.04 L852.06 427.95 L853.41 427.88 L854.83 427.82 L856.30 427.80 L857.82 427.79 L859.38 427.81 L860.96 427.86 L862.54 427.93 L864.13 428.02 L865.71 428.14 L867.26 428.29 L868.77 428.46 L870.23 428.65 L871.64 428.87 L872.98 429.11 L874.24 429.37 L875.41 429.65 L876.48 429.94 L877.45 430.26 L878.31 430.58 L879.05 430.92 L879.66 431.28 L880.15 431.64 L880.50 432.00 L880.72 432.37 L880.80 432.75 L880.74 433.12 M844.02 435.59 L844.16 435.38 L844.44 435.17 L844.86 434.97 L845.40 434.77 L846.07 434.59 L846.86 434.41 L847.77 434.25 L848.79 434.11 L849.91 433.98 L851.12 433.87 L852.42 433.78 L853.79 433.71 L855.23 433.67 L856.71 433.65 L858.25 433.65 L859.81 433.67 L861.39 433.73 L862.98 433.80 L864.56 433.91 L866.13 434.03 L867.67 434.19 L869.17 434.36 L870.62 434.56 L872.01 434.79 L873.33 435.03 L874.57 435.30 L875.71 435.58 L876.76 435.88 L877.70 436.20 L878.52 436.53 L879.23 436.87 L879.81 437.23 L880.26 437.59 L880.57 437.96 L880.75 438.33 L880.80 438.70 M844.05 441.39 L844.23 441.18 L844.54 440.97 L844.99 440.77 L845.57 440.58 L846.28 440.39 L847.10 440.22 L848.04 440.07 L849.09 439.93 L850.23 439.80 L851.47 439.70 L852.79 439.62 L854.18 439.55 L855.63 439.51 L857.13 439.50 L858.67 439.51 L860.24 439.54 L861.82 439.60 L863.41 439.68 L864.99 439.79 L866.55 439.93 L868.09 440.09 L869.57 440.27 L871.01 440.48 L872.38 440.71 L873.68 440.96 L874.89 441.23 L876.01 441.51 L877.03 441.82 L877.94 442.14 L878.73 442.48 L879.40 442.82 L879.94 443.18 L880.36 443.54 L880.64 443.91 L880.78 444.29 L880.79 444.66 M844.00 447.40 L844.08 447.19 L844.30 446.98 L844.65 446.77 L845.14 446.57 L845.75 446.38 L846.49 446.20 L847.35 446.03 L848.32 445.88 L849.39 445.75 L850.56 445.63 L851.82 445.53 L853.16 445.45 L854.57 445.40 L856.03 445.36 L857.54 445.35 L859.09 445.37 L860.67 445.41 L862.26 445.47 L863.84 445.57 L865.42 445.68 L866.98 445.82 L868.50 445.99 L869.97 446.18 L871.39 446.39 L872.74 446.63 L874.02 446.88 L875.20 447.16 L876.30 447.45 L877.29 447.76 L878.16 448.09 L878.92 448.43 L879.56 448.77 L880.07 449.13 L880.45 449.50 L880.69 449.87 L880.79 450.24 L880.76 450.62 M844.01 453.20 L844.13 452.98 L844.38 452.77 L844.77 452.57 L845.29 452.37 L845.94 452.18 L846.71 452.01 L847.60 451.85 L848.60 451.70 L849.70 451.57 L850.90 451.45 L852.18 451.36 L853.54 451.29 L854.96 451.24 L856.44 451.21 L857.96 451.21 L859.52 451.23 L861.10 451.28 L862.69 451.35 L864.28 451.45 L865.85 451.57 L867.39 451.72 L868.90 451.89 L870.36 452.09 L871.77 452.31 L873.10 452.55 L874.35 452.81 L875.51 453.09 L876.58 453.39 L877.54 453.70 L878.38 454.03 L879.11 454.37 L879.71 454.73 L880.19 455.09 L880.53 455.45 L880.73 455.83 L880.80 456.20" stroke="#8e9aa2" stroke-width="1.1"/>
<path d="M844.00 424.00 L844.07 423.79 M880.77 427.17 L880.62 427.54 L880.32 427.91 L879.90 428.27 L879.34 428.63 L878.66 428.97 L877.86 429.31 L876.94 429.63 L875.91 429.93 L874.78 430.22 L873.56 430.49 L872.26 430.73 L870.88 430.96 L869.44 431.17 L867.95 431.35 L866.41 431.50 L864.85 431.64 L863.27 431.74 L861.68 431.82 L860.09 431.88 L858.53 431.91 L856.99 431.92 L855.49 431.90 L854.05 431.86 L852.66 431.80 L851.35 431.71 L850.12 431.60 L848.99 431.48 L847.95 431.34 L847.02 431.18 L846.21 431.01 L845.51 430.82 L844.95 430.63 L844.51 430.43 L844.20 430.22 L844.04 430.01 L844.01 429.80 M880.74 433.12 L880.55 433.49 L880.22 433.86 L879.76 434.22 L879.17 434.58 L878.45 434.92 L877.62 435.25 L876.67 435.57 L875.61 435.87 L874.46 436.15 L873.22 436.41 L871.89 436.65 L870.49 436.87 L869.04 437.07 L867.53 437.25 L865.99 437.40 L864.42 437.52 L862.83 437.62 L861.24 437.70 L859.66 437.75 L858.10 437.77 L856.58 437.77 L855.09 437.75 L853.66 437.70 L852.30 437.63 L851.01 437.54 L849.80 437.43 L848.69 437.30 L847.69 437.15 L846.79 436.99 L846.01 436.81 L845.35 436.63 L844.81 436.43 L844.41 436.23 L844.15 436.02 L844.01 435.81 L844.02 435.59 M880.80 438.70 L880.70 439.08 L880.47 439.45 L880.11 439.82 L879.61 440.17 L878.99 440.53 L878.24 440.86 L877.37 441.19 L876.39 441.50 L875.31 441.80 L874.13 442.08 L872.86 442.33 L871.52 442.57 L870.10 442.79 L868.63 442.98 L867.12 443.14 L865.56 443.29 L863.99 443.41 L862.40 443.50 L860.81 443.57 L859.24 443.61 L857.68 443.63 L856.17 443.62 L854.70 443.59 L853.28 443.54 L851.94 443.46 L850.67 443.36 L849.49 443.25 L848.41 443.11 L847.43 442.96 L846.56 442.80 L845.81 442.62 L845.19 442.43 L844.69 442.23 L844.33 442.03 L844.10 441.82 L844.00 441.60 L844.05 441.39 M880.79 444.66 L880.65 445.03 L880.39 445.40 L879.99 445.77 L879.45 446.13 L878.79 446.47 L878.01 446.81 L877.11 447.13 L876.11 447.44 L875.00 447.73 L873.79 448.00 L872.50 448.25 L871.14 448.49 L869.71 448.69 L868.22 448.88 L866.70 449.04 L865.14 449.18 L863.56 449.29 L861.97 449.38 L860.38 449.44 L858.81 449.47 L857.27 449.48 L855.76 449.47 L854.31 449.43 L852.91 449.37 L851.58 449.29 L850.34 449.19 L849.19 449.07 L848.13 448.93 L847.18 448.77 L846.35 448.60 L845.63 448.42 L845.04 448.23 L844.58 448.03 L844.25 447.82 L844.06 447.61 L844.00 447.40 M880.76 450.62 L880.60 450.99 L880.29 451.36 L879.85 451.72 L879.29 452.08 L878.59 452.42 L877.78 452.75 L876.85 453.07 L875.81 453.38 L874.68 453.66 L873.45 453.93 L872.14 454.17 L870.75 454.40 L869.31 454.60 L867.81 454.78 L866.27 454.94 L864.71 455.07 L863.12 455.17 L861.53 455.25 L859.95 455.30 L858.39 455.33 L856.85 455.34 L855.36 455.32 L853.92 455.27 L852.54 455.21 L851.24 455.12 L850.02 455.01 L848.89 454.89 L847.86 454.74 L846.94 454.58 L846.14 454.41 L845.46 454.23 L844.90 454.03 L844.48 453.83 L844.18 453.62 L844.03 453.41 L844.01 453.20" stroke="#66727c" stroke-width="1.35"/>
</g>

<!-- PARTS -->
<!-- ===== leader lines ===== -->
<g id="leaders" fill="none" stroke="#f05454" stroke-width="1.1">
<polyline points="762,137.1 810,137.1 858.9,154.2"/>
<polyline points="608.7,222.5 652,222.5 753.8,245.3"/>
<polyline points="608.7,280 652,280 731,299.4"/>
<polyline points="609.3,346 653,346 752.3,363.1"/>
<polyline points="609.3,419.4 653.9,419.4 754.2,433.7"/>
<polyline points="609.3,524.9 651.9,524.9 732.4,539.6"/>
<polyline points="985,213.3 945,213.3 870,229.5"/>
<polyline points="985,254.8 945.4,254.8 866.4,271.3"/>
<polyline points="985,287.3 945.4,287.3 870,303.8"/>
<polyline points="985,341.8 944.8,341.8 869,358.5"/>
<polyline points="985,425.3 945,425.3 864,442"/>
<polyline points="984,473.7 946,473.7 866,489.4"/>
</g>


<g class="lbl">
<text x="786.6" y="128.5">1</text>
<text x="628.6" y="216">2</text>
<text x="628.6" y="274.5">3</text>
<text x="628.4" y="342.3">4</text>
<text x="628.4" y="412">5</text>
<text x="958.8" y="205.5">6</text>
<text x="959.8" y="253">7</text>
<text x="958.8" y="280">8</text>
<text x="959.5" y="335">9</text>
<text x="955.5" y="420">10</text>
<text x="957" y="466.7">11</text>
<text x="625" y="517.9">12</text>
</g>
<g fill="#444">
<circle cx="858.9" cy="154.2" r="1"/><circle cx="753.8" cy="245.3" r="1"/><circle cx="731" cy="299.4" r="1"/>
<circle cx="752.3" cy="363.1" r="1"/><circle cx="754.2" cy="433.7" r="1"/><circle cx="732.4" cy="539.6" r="1"/>
<circle cx="870" cy="229.5" r="1"/><circle cx="866.4" cy="271.3" r="1"/><circle cx="870" cy="303.8" r="1"/>
<circle cx="869" cy="358.5" r="1"/><circle cx="864" cy="442" r="1"/><circle cx="866" cy="489.4" r="1"/>
</g>

<!-- 序号 -->
<g fill="none" stroke="#1e1e1e" stroke-width="1.3" stroke-linecap="square">
<path d="M71.4 19.6 L72.9 21.3"/>
<path d="M66.6 22.2 H79.1"/>
<path d="M66.6 22.2 V28 Q66.4 32 64.6 34.3"/>
<path d="M69.3 24.4 H76.4 L73.4 27"/>
<path d="M68.3 28.2 H78.8 L77.6 30.6"/>
<path d="M74.3 27.4 V34.2 L72.3 34.4"/>
<path d="M84.9 20.6 H93.6 V24.3 H84.9 Z"/>
<path d="M81.9 26.7 H96.5"/>
<path d="M86.7 26.8 L86.2 29.5 H93.6 V32.6 Q93.4 34.3 91.5 34.4 H88.6"/>
</g>
</svg>
</body></html>
